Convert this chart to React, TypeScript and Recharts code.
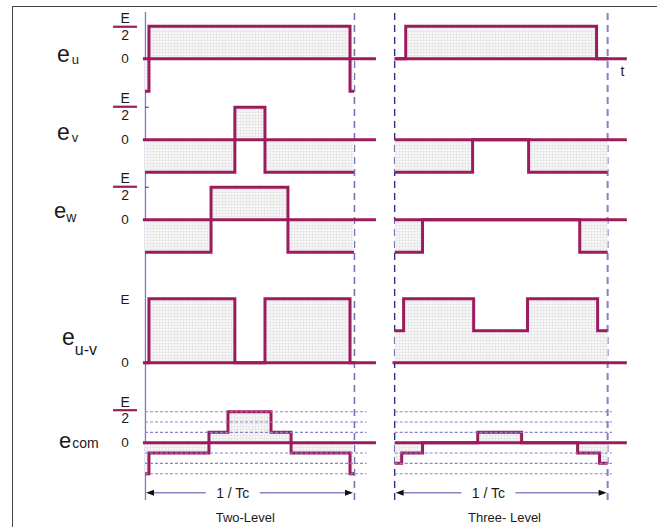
import React from 'react';
import { ComposedChart, Area, XAxis, YAxis, ReferenceLine, ReferenceDot } from 'recharts';

// ---------- data (times are fractions of one carrier period, values in units of E) ----------
// Two-level inverter
const euTwoT = [0, 0.019, 0.981, 1];
const euTwoV = [-0.5, 0.5, -0.5, -0.5];
const evTwoT = [0, 0.43, 0.574, 1];
const evTwoV = [-0.5, 0.5, -0.5, -0.5];
const ewTwoT = [0, 0.316, 0.684, 1];
const ewTwoV = [-0.5, 0.5, -0.5, -0.5];
const euvTwoT = [0, 0.019, 0.43, 0.574, 0.981, 1];
const euvTwoV = [0, 1, 0, 1, 0, 0];
const ecomTwoT = [0, 0.019, 0.306, 0.397, 0.603, 0.699, 0.981, 1];
const ecomTwoV = [-0.5, -0.167, 0.167, 0.5, 0.167, -0.167, -0.5, -0.5];

// Three-level inverter
const euThreeT = [0, 0.052, 0.948, 1];
const euThreeV = [0, 0.5, 0, 0];
const evThreeT = [0, 0.366, 0.629, 1];
const evThreeV = [-0.5, 0, -0.5, -0.5];
const ewThreeT = [0, 0.131, 0.869, 1];
const ewThreeV = [-0.5, 0, -0.5, -0.5];
const euvThreeT = [0, 0.042, 0.371, 0.624, 0.953, 1];
const euvThreeV = [0.5, 1, 0.5, 1, 0.5, 0.5];
const ecomThreeT = [0, 0.033, 0.131, 0.39, 0.596, 0.859, 0.962, 1];
const ecomThreeV = [-0.333, -0.167, 0, 0.167, 0, -0.167, -0.333, -0.333];

// axis labels
const rowSubscripts = ['u', 'v', 'w', 'u-v', 'com'];
const halfTicks = [0, 0.5];
const halfTickLabels = ['0', 'E/2'];
const fullTicks = [0, 1];
const fullTickLabels = ['0', 'E'];
const ecomGridLevels = [0.5, 0.333, 0.167, -0.167, -0.333, -0.5];
const periodLabel = '1 / Tc';
const panelTitles = ['Two-Level', 'Three- Level'];
const timeLabel = 't';

// ---------- styling / layout ----------
const WAVE = '#9b1b5f';
const GRID_BLUE = '#8686c8';
const TEXT = '#1a1a1a';
const FONT = 'Liberation Sans, Arial, sans-serif';
const XDOM: [number, number] = [-0.05, 1.15];

const PANELS = [
  { x0: 145, px: 209, zeroEnd: 1.105, gridEnd: 1.06, textFrac: 0.42, titleX: 0.48, leftLine: { stroke: '#7b7bbf', dash: undefined as string | undefined, w: 1.3 }, rightLine: { stroke: '#7474c2', dash: '7 5', w: 1.6 } },
  { x0: 395, px: 213, zeroEnd: 1.09, gridEnd: 1.02, textFrac: 0.44, titleX: 0.516, leftLine: { stroke: '#2e2e88', dash: '7 5', w: 1.4 }, rightLine: { stroke: '#7f7fcc', dash: '7 5', w: 2 } },
];

type RowCfg = {
  zeroY: number; pxPerE: number; domain: [number, number];
  ticks: number[]; tickLabels: string[];
  nameX: number; nameDy: number; eSize: number; subDx: number; subDy: number; subSize: number;
  fracDy: number; tickMark: boolean;
};

const ROWS: RowCfg[] = [
  { zeroY: 59, pxPerE: 65, domain: [-0.75, 0.75], ticks: halfTicks, tickLabels: halfTickLabels, nameX: 57, nameDy: 3, eSize: 23, subDx: 2, subDy: 2, subSize: 13, fracDy: 0, tickMark: false },
  { zeroY: 140, pxPerE: 65, domain: [-0.75, 0.75], ticks: halfTicks, tickLabels: halfTickLabels, nameX: 57, nameDy: 0, eSize: 23, subDx: 2, subDy: 2, subSize: 13, fracDy: -1, tickMark: true },
  { zeroY: 220, pxPerE: 65, domain: [-0.75, 0.75], ticks: halfTicks, tickLabels: halfTickLabels, nameX: 54, nameDy: -2, eSize: 22, subDx: 0, subDy: 4, subSize: 14, fracDy: -1, tickMark: true },
  { zeroY: 363, pxPerE: 64, domain: [-0.3, 1.2], ticks: fullTicks, tickLabels: fullTickLabels, nameX: 62, nameDy: -18, eSize: 23, subDx: 0, subDy: 10, subSize: 16, fracDy: 0, tickMark: false },
  { zeroY: 443, pxPerE: 62, domain: [-1.3, 0.85], ticks: halfTicks, tickLabels: halfTickLabels, nameX: 59, nameDy: 5, eSize: 22, subDx: 1, subDy: 0, subSize: 14, fracDy: -2, tickMark: false },
];

const SERIES = [
  [[euTwoT, euTwoV], [evTwoT, evTwoV], [ewTwoT, ewTwoV], [euvTwoT, euvTwoV], [ecomTwoT, ecomTwoV]],
  [[euThreeT, euThreeV], [evThreeT, evThreeV], [ewThreeT, ewThreeV], [euvThreeT, euvThreeV], [ecomThreeT, ecomThreeV]],
];

const toData = (T: number[], V: number[]) => T.map((t, i) => ({ t, v: V[i] }));

const plotLeft = (p: typeof PANELS[number]) => p.x0 + XDOM[0] * p.px;
const plotWidth = (p: typeof PANELS[number]) => (XDOM[1] - XDOM[0]) * p.px;

const makeTick = (row: RowCfg, rowIndex: number) => (props: any) => {
  const { x, y, payload } = props;
  const idx = row.ticks.findIndex((t) => Math.abs(t - payload.value) < 1e-6);
  const lab = row.tickLabels[idx];
  const cx = x - 9.5;
  const isZero = Math.abs(payload.value) < 1e-6;
  return (
    <g fontFamily={FONT} fill={TEXT}>
      {lab === 'E/2' ? (
        <g>
          <text x={cx} y={y - 3 + row.fracDy} textAnchor="middle" fontSize={14}>E</text>
          <line x1={cx - 12} x2={cx + 12} y1={y + 0.5 + row.fracDy} y2={y + 0.5 + row.fracDy} stroke={WAVE} strokeWidth={2.2} />
          <text x={cx} y={y + 13.5 + row.fracDy} textAnchor="middle" fontSize={14}>2</text>
        </g>
      ) : (
        <text x={cx} y={y + (lab === 'E' ? 5 : 4)} textAnchor="middle" fontSize={13.5}>{lab}</text>
      )}
      {isZero && (
        <text x={row.nameX} y={y + row.nameDy} textAnchor="start">
          <tspan fontSize={row.eSize}>e</tspan>
          <tspan fontSize={row.subSize} dx={row.subDx} dy={row.subDy}>{rowSubscripts[rowIndex]}</tspan>
        </text>
      )}
    </g>
  );
};

const ArrowShape = (frac: number) => (props: any) => {
  const { x1, y1, x2 } = props;
  const xa = Math.min(x1, x2);
  const xb = Math.max(x1, x2);
  const y = y1;
  const tx = xa + (xb - xa) * frac;
  const half = 27;
  return (
    <g>
      <line x1={xa + 6} x2={tx - half} y1={y} y2={y} stroke={GRID_BLUE} strokeWidth={1.5} />
      <line x1={tx + half} x2={xb - 6} y1={y} y2={y} stroke={GRID_BLUE} strokeWidth={1.5} />
      <polygon points={`${xa + 1},${y} ${xa + 9},${y - 3} ${xa + 9},${y + 3}`} fill="#111" />
      <polygon points={`${xb - 1},${y} ${xb - 9},${y - 3} ${xb - 9},${y + 3}`} fill="#111" />
      <text x={tx} y={y + 5} textAnchor="middle" fontSize={14} fontFamily={FONT} fill={TEXT}>{periodLabel}</text>
    </g>
  );
};

const TextShape = (txt: string, size: number) => (props: any) => (
  <text x={props.cx} y={props.cy} textAnchor="middle" dominantBaseline="central" fontSize={size} fontFamily={FONT} fill={TEXT}>{txt}</text>
);

function WaveRow({ panelIndex, rowIndex }: { panelIndex: number; rowIndex: number }) {
  const panel = PANELS[panelIndex];
  const row = ROWS[rowIndex];
  const [T, V] = SERIES[panelIndex][rowIndex];
  const data = toData(T, V);
  const showAxis = panelIndex === 0;
  const pl = plotLeft(panel);
  const pw = plotWidth(panel);
  const yAxisW = showAxis ? pl : 0;
  const left = pl - yAxisW;
  const width = pw + yAxisW;
  const top = row.zeroY - row.domain[1] * row.pxPerE;
  const height = (row.domain[1] - row.domain[0]) * row.pxPerE;
  const pid = `hatch-${panelIndex}-${rowIndex}`;
  const isEcom = rowIndex === 4;
  const zeroStart = panelIndex === 0 ? -0.01 : rowIndex === 3 ? -0.01 : 0;
  return (
    <div style={{ position: 'absolute', left, top, width, height }}>
      <ComposedChart width={width} height={height} data={data} margin={{ top: 0, right: 0, bottom: 0, left: 0 }}>
        <defs>
          <pattern id={pid} width="3" height="3" patternUnits="userSpaceOnUse">
            <rect width="3" height="3" fill="#f7f7f7" />
            <path d="M0 0.5 H3 M0.5 0 V3" stroke="#e0e0e0" strokeWidth="0.6" />
          </pattern>
        </defs>
        <XAxis dataKey="t" type="number" domain={XDOM} hide allowDataOverflow />
        <YAxis
          type="number"
          domain={row.domain}
          hide={!showAxis}
          width={yAxisW}
          ticks={row.ticks}
          interval={0}
          axisLine={false}
          tickLine={false}
          tickSize={0}
          tickMargin={0}
          tick={makeTick(row, rowIndex)}
          allowDataOverflow
        />
        {isEcom && ecomGridLevels.map((lv) => (
          <ReferenceLine key={lv} segment={[{ x: 0, y: lv }, { x: panel.gridEnd, y: lv }]} stroke={GRID_BLUE} strokeWidth={1.1} strokeDasharray="3 2" />
        ))}
        <Area
          type="stepAfter"
          dataKey="v"
          baseValue={0}
          stroke={WAVE}
          strokeWidth={3}
          fill={`url(#${pid})`}
          fillOpacity={1}
          isAnimationActive={false}
          dot={false}
          activeDot={false}
        />
        <ReferenceLine segment={[{ x: zeroStart, y: 0 }, { x: panel.zeroEnd, y: 0 }]} stroke={WAVE} strokeWidth={3} />
        {row.tickMark && showAxis && (
          <ReferenceLine segment={[{ x: 0, y: 0.5 }, { x: 0.018, y: 0.5 }]} stroke="#4a4aa0" strokeWidth={1.2} />
        )}
        {isEcom && (
          <ReferenceLine segment={[{ x: 0, y: -0.806 }, { x: 1, y: -0.806 }]} shape={ArrowShape(panel.textFrac)} />
        )}
        {isEcom && (
          <ReferenceDot x={panel.titleX} y={-1.2} r={1} shape={TextShape(panelTitles[panelIndex], 13)} />
        )}
        {rowIndex === 0 && panelIndex === 1 && (
          <ReferenceDot x={1.07} y={-0.19} r={1} shape={TextShape(timeLabel, 14)} />
        )}
      </ComposedChart>
    </div>
  );
}

const frameT = [0, 1];
const frameV = [0, 1];

function Frame({ panelIndex }: { panelIndex: number }) {
  const panel = PANELS[panelIndex];
  const pl = plotLeft(panel);
  const pw = plotWidth(panel);
  const top = 12;
  const height = 488;
  const frameData = toData(frameT, frameV);
  return (
    <div style={{ position: 'absolute', left: pl, top, width: pw, height }}>
      <ComposedChart width={pw} height={height} data={frameData} margin={{ top: 0, right: 0, bottom: 0, left: 0 }}>
        <XAxis dataKey="t" type="number" domain={XDOM} hide />
        <YAxis type="number" domain={[0, 1]} hide />
        <Area dataKey="v" stroke="none" fill="none" isAnimationActive={false} dot={false} activeDot={false} />
        <ReferenceLine x={0} stroke={panel.leftLine.stroke} strokeWidth={panel.leftLine.w} strokeDasharray={panel.leftLine.dash} ifOverflow="visible" />
        <ReferenceLine x={1} stroke={panel.rightLine.stroke} strokeWidth={panel.rightLine.w} strokeDasharray={panel.rightLine.dash} ifOverflow="visible" />
      </ComposedChart>
    </div>
  );
}

export default function App() {
  return (
    <div style={{ position: 'fixed', left: 0, top: 0, width: 661, height: 527, overflow: 'hidden', background: '#fff' }}>
      <div style={{ position: 'absolute', left: 12, top: 6, width: 644, height: 540, borderTop: '1.5px solid #444', borderLeft: '1.5px solid #444' }} />
      <Frame panelIndex={0} />
      <Frame panelIndex={1} />
      {[0, 1].map((p) => [0, 1, 2, 3, 4].map((r) => <WaveRow key={`${p}-${r}`} panelIndex={p} rowIndex={r} />))}
    </div>
  );
}
